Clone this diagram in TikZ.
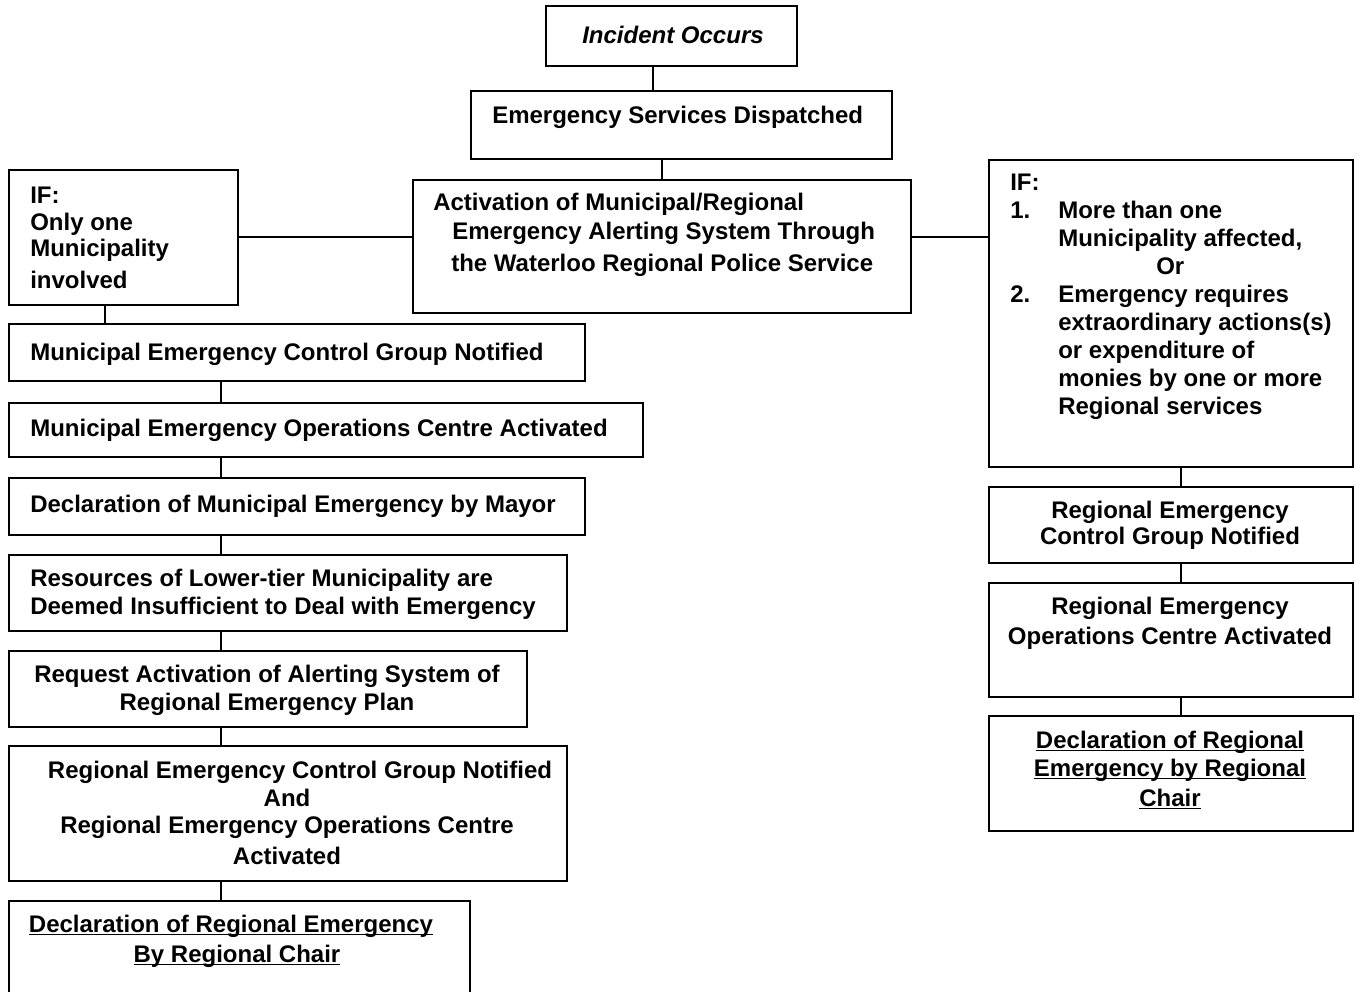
\documentclass[tikz,border=0pt]{standalone}
\usepackage{fontspec}
\setmainfont{Liberation Sans}
\usetikzlibrary{fit}
\newcommand{\ulin}[1]{\underline{\raisebox{0pt}[\height][0pt]{#1}}}

\tikzset{
	box/.style={draw, line width=1.5pt, inner sep=0pt, fit={#1}},
	txt/.style={inner sep=0pt, align=left, anchor=north west},
	ctxt/.style={inner sep=0pt, align=center, anchor=north},
	link/.style={line width=1.5pt}
}

\begin{document}
\begin{tikzpicture}[x=0.75pt, y=-0.75pt,
	every node/.style={font=\fontsize{18}{21}\selectfont\bfseries}]
\useasboundingbox (0,0) rectangle (1360,992);

% top of the chart
\node[box={(546,6)(797,66)}] (inc) {};
\node[ctxt] (inctxt) at (673,26) {\itshape Incident Occurs};
\node[box={(471,91)(892,159)}] (esd) {};
\node[txt] (esdtxt) at (492,106) {Emergency Services Dispatched};
\node[box={(413,180)(911,313)}] (act) {};
\node[txt] (acttxt) at (433,193) {Activation of Municipal/Regional\\[0.3pt]
	\hspace*{14.25pt}Emergency Alerting System Through\\[3pt]
	\hspace*{13.5pt}the Waterloo Regional Police Service};

% the two conditions
\node[box={(9,170)(238,305)}] (lif) {};
\node[txt] (liftxt) at (30,187) {IF:\\[-0.75pt] Only one\\[-1.5pt]
	Municipality\\[3pt] involved};
\node[box={(989,160)(1353,467)}] (rif) {};
\node[txt] (riftxt) at (1010,174) {IF:\\
	\makebox[36pt][l]{1.}More than one\\
	\hspace*{36pt}Municipality affected,\\
	\hspace*{109.5pt}Or\\
	\makebox[36pt][l]{2.}Emergency requires\\
	\hspace*{36pt}extraordinary actions(s)\\
	\hspace*{36pt}or expenditure of\\
	\hspace*{36pt}monies by one or more\\
	\hspace*{36pt}Regional services};

% municipal column
\node[box={(9,324)(585,381)}] (mcg) {};
\node[txt] (mcgtxt) at (30,343) {Municipal Emergency Control Group Notified};
\node[box={(9,403)(643,457)}] (meoc) {};
\node[txt] (meoctxt) at (30,419) {Municipal Emergency Operations Centre Activated};
\node[box={(9,478)(585,535)}] (mdec) {};
\node[txt] (mdectxt) at (30,495) {Declaration of Municipal Emergency by Mayor};
\node[box={(9,555)(567,631)}] (mres) {};
\node[txt] (mrestxt) at (30,569) {Resources of Lower-tier Municipality are\\
	Deemed Insufficient to Deal with Emergency};
\node[box={(9,651)(527,727)}] (mreq) {};
\node[ctxt] (mreqtxt) at (267,665) {Request Activation of Alerting System of\\
	Regional Emergency Plan};
\node[box={(9,746)(567,881)}] (mreg) {};
\node[ctxt] (mregtxt) at (287,761) {\hspace*{19.5pt}Regional Emergency Control Group Notified\\
	And\\[-0.75pt] Regional Emergency Operations Centre\\[2.25pt] Activated};
\node[box={(9,901)(470,1010)}] (mrdec) {};
\node[ctxt] (mrdectxt) at (231,915) {\ulin{Declaration of Regional Emergency}\\[1.5pt]
	\hspace*{9pt}\ulin{By Regional Chair}};

% regional column
\node[box={(989,487)(1353,563)}] (rcg) {};
\node[ctxt] (rcgtxt) at (1170,501) {Regional Emergency\\[-1.5pt] Control Group Notified};
\node[box={(989,583)(1353,697)}] (reoc) {};
\node[ctxt] (reoctxt) at (1170,597) {Regional Emergency\\[1.5pt] Operations Centre Activated};
\node[box={(989,716)(1353,831)}] (rdec) {};
\node[ctxt] (rdectxt) at (1170,731) {\ulin{Declaration of Regional}\\
	\ulin{Emergency by Regional}\\[1.5pt] \ulin{Chair}};

% connectors
\coordinate (ix) at (653,0);
\coordinate (ex) at (662,0);
\coordinate (ox) at (105,0);
\coordinate (lx) at (221,0);
\coordinate (rx) at (1181,0);
\coordinate (hy) at (0,237);
\draw[link] (inc.south -| ix) -- (esd.north -| ix);
\draw[link] (esd.south -| ex) -- (act.north -| ex);
\draw[link] (lif.east |- hy) -- (act.west |- hy);
\draw[link] (act.east |- hy) -- (rif.west |- hy);
\draw[link] (lif.south -| ox) -- (mcg.north -| ox);
\foreach \a/\b in {mcg/meoc, meoc/mdec, mdec/mres, mres/mreq, mreq/mreg, mreg/mrdec}
	\draw[link] (\a.south -| lx) -- (\b.north -| lx);
\foreach \a/\b in {rif/rcg, rcg/reoc, reoc/rdec}
	\draw[link] (\a.south -| rx) -- (\b.north -| rx);
\end{tikzpicture}
\end{document}
